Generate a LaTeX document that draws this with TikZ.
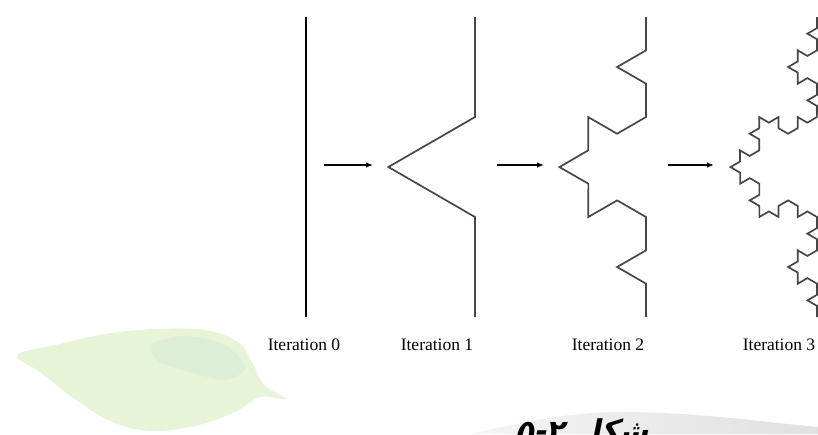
\documentclass[tikz,border=0pt]{standalone}
\usepackage{fontspec}
\setmainfont{Liberation Serif}
\newfontfamily\farsifont[Script=Arabic,FakeSlant=0.2]{DejaVu Sans}
\TeXXeTstate=1
\usetikzlibrary{decorations.fractals,arrows.meta}

\definecolor{leaf}{RGB}{231,244,216}
\definecolor{leafdark}{RGB}{214,234,212}
\definecolor{curve}{RGB}{70,70,70}

\begin{document}
\begin{tikzpicture}[x=1pt,y=-1pt,
  koch/.style={draw=curve,line width=1.7pt,line join=miter,decoration=Koch snowflake},
  go/.style={draw=black,line width=1.3pt,-{Latex[length=7pt,width=5.5pt]}},
  lbl/.style={font=\fontsize{17.5}{20}\selectfont,inner sep=0pt}]
  \useasboundingbox (0,0) rectangle (818,434);
  \clip (0,0) rectangle (818,434);
  % faded leaf, lower left
  \fill[leaf] plot[smooth cycle,tension=0.6] coordinates {(17,355) (60,344) (105,334) (155,329)
    (205,330) (238,342) (252,362) (264,385) (286,399) (260,397) (235,412) (195,426)
    (150,431) (110,421) (72,397) (40,372)};
  \fill[leafdark,opacity=0.6] plot[smooth cycle] coordinates {(150,345) (185,336) (225,345)
    (245,368) (225,380) (190,372) (160,362)};
  % grey hill behind the caption
  \shade[left color=gray!8,middle color=gray!38,right color=gray!24]
    (470,434) .. controls (540,418) and (580,412) .. (620,412)
    .. controls (700,412) and (770,423) .. (818,427) -- (818,434) -- cycle;
  % ends of the four curves
  \foreach \k/\x in {0/306,1/475,2/646,3/817} {
    \coordinate (top\k) at (\x,17);
    \coordinate (bot\k) at (\x,317);
  }
  % iterations, drawn bottom to top so the bumps point left
  \draw[koch,draw=black,line width=1.5pt] (bot0) -- (top0);
  \draw[koch] decorate{(bot1) -- (top1)};
  \draw[koch] decorate{decorate{(bot2) -- (top2)}};
  \draw[koch] decorate{decorate{decorate{(bot3) -- (top3)}}};
  % arrows in between
  \foreach \k/\xa/\xb in {1/324/373,2/497/544,3/668/714} {
    \coordinate (from\k) at (\xa,165);
    \coordinate (to\k) at (\xb,165);
    \draw[go] (from\k) -- (to\k);
  }
  % labels
  \foreach \k/\x in {0/304,1/437,2/608,3/779}
    \node[lbl] (it\k) at (\x,345) {Iteration \k};
  % caption
  \node[font=\farsifont\bfseries\fontsize{30}{34}\selectfont,anchor=base,inner sep=0pt]
    (cap) at (582,441) {\beginR شکل \beginL۵-۲\endL\endR};
\end{tikzpicture}
\end{document}
